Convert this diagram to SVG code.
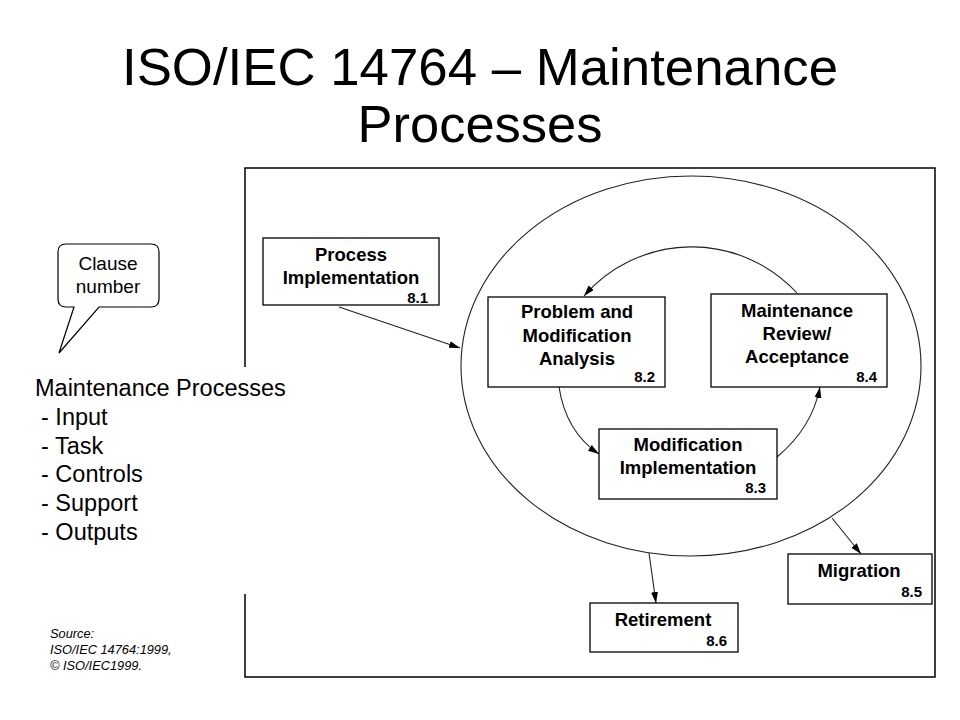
<svg xmlns="http://www.w3.org/2000/svg" width="960" height="720" viewBox="0 0 960 720">
<style>
  .box { fill: #fff; stroke: #000; stroke-width: 1.3; }
  .lbl { font-family: "Liberation Sans", Arial, sans-serif; font-weight: bold; font-size: 18.5px; text-anchor: middle; fill: #000; }
  .num { font-family: "Liberation Sans", Arial, sans-serif; font-weight: bold; font-size: 15px; text-anchor: end; fill: #000; }
  .con { fill: none; stroke: #222; stroke-width: 1.1; }
  .reg { font-family: "Liberation Sans", Arial, sans-serif; fill: #000; }
</style>
<defs>
  <marker id="ah" markerUnits="userSpaceOnUse" markerWidth="12" markerHeight="9" refX="11" refY="3.5" orient="auto">
    <path d="M0,0 L11,3.5 L0,7 z" fill="#000"/>
  </marker>
</defs>
<rect width="960" height="720" fill="#fff"/>

<g id="title">
  <text class="reg" x="480" y="85" font-size="52" text-anchor="middle" textLength="716" lengthAdjust="spacingAndGlyphs">ISO/IEC 14764 – Maintenance</text>
  <text class="reg" x="480" y="142" font-size="52" text-anchor="middle" textLength="245" lengthAdjust="spacingAndGlyphs">Processes</text>
</g>

<g id="frame" fill="none" stroke="#000" stroke-width="1.5">
  <polyline points="245,367 245,168 935,168 935,677 245,677 245,594"/>
</g>

<g id="maintenance-cycle">
  <ellipse cx="691" cy="366" rx="230" ry="190" fill="none" stroke="#222" stroke-width="1.1"/>
</g>

<g id="connectors">
  <line class="con" x1="339" y1="307" x2="460" y2="348" marker-end="url(#ah)"/>
  <path class="con" d="M797,293 A143,143 0 0 0 584,296" marker-end="url(#ah)"/>
  <path class="con" d="M559,387 Q566,432 599,454" marker-end="url(#ah)"/>
  <path class="con" d="M777,457 Q812,428 820,387" marker-end="url(#ah)"/>
  <line class="con" x1="649" y1="553" x2="656" y2="603" marker-end="url(#ah)"/>
  <line class="con" x1="832" y1="518" x2="861" y2="554" marker-end="url(#ah)"/>
</g>

<g id="n81">
  <rect class="box" x="263" y="238" width="176" height="67"/>
  <text class="lbl" x="351" y="261">Process</text>
  <text class="lbl" x="351" y="284">Implementation</text>
  <text class="num" x="428" y="303">8.1</text>
</g>

<g id="n82">
  <rect class="box" x="488" y="297" width="177" height="90"/>
  <text class="lbl" x="577" y="318">Problem and</text>
  <text class="lbl" x="577" y="342">Modification</text>
  <text class="lbl" x="577" y="365">Analysis</text>
  <text class="num" x="655" y="382">8.2</text>
</g>

<g id="n84">
  <rect class="box" x="711" y="294" width="176" height="93"/>
  <text class="lbl" x="797" y="317">Maintenance</text>
  <text class="lbl" x="797" y="340">Review/</text>
  <text class="lbl" x="797" y="363">Acceptance</text>
  <text class="num" x="877" y="382">8.4</text>
</g>

<g id="n83">
  <rect class="box" x="599" y="429" width="178" height="70"/>
  <text class="lbl" x="688" y="451">Modification</text>
  <text class="lbl" x="688" y="474">Implementation</text>
  <text class="num" x="766" y="493">8.3</text>
</g>

<g id="n85">
  <rect class="box" x="788" y="554" width="144" height="50"/>
  <text class="lbl" x="859" y="577">Migration</text>
  <text class="num" x="922" y="597">8.5</text>
</g>

<g id="n86">
  <rect class="box" x="590" y="603" width="148" height="49"/>
  <text class="lbl" x="663" y="626">Retirement</text>
  <text class="num" x="727" y="646">8.6</text>
</g>

<g id="callout">
  <path d="M66,244 H151 Q159,244 159,252 V299 Q159,307 151,307 H99 L59,353 L74,307 H66 Q58,307 58,299 V252 Q58,244 66,244 Z" fill="#fff" stroke="#000" stroke-width="1.2"/>
  <text class="reg" x="108" y="270" font-size="19" text-anchor="middle" fill="#222">Clause</text>
  <text class="reg" x="108" y="293" font-size="19" text-anchor="middle" fill="#222">number</text>
</g>

<g id="legend" class="reg" font-size="23.5">
  <text x="35" y="396">Maintenance Processes</text>
  <text x="41" y="425">- Input</text>
  <text x="41" y="454">- Task</text>
  <text x="41" y="482">- Controls</text>
  <text x="41" y="511">- Support</text>
  <text x="41" y="540">- Outputs</text>
</g>

<g id="source" class="reg" font-size="12.8" font-style="italic" fill="#333">
  <text x="50" y="638">Source:</text>
  <text x="50" y="654">ISO/IEC 14764:1999,</text>
  <text x="50" y="670">© ISO/IEC1999.</text>
</g>
</svg>
